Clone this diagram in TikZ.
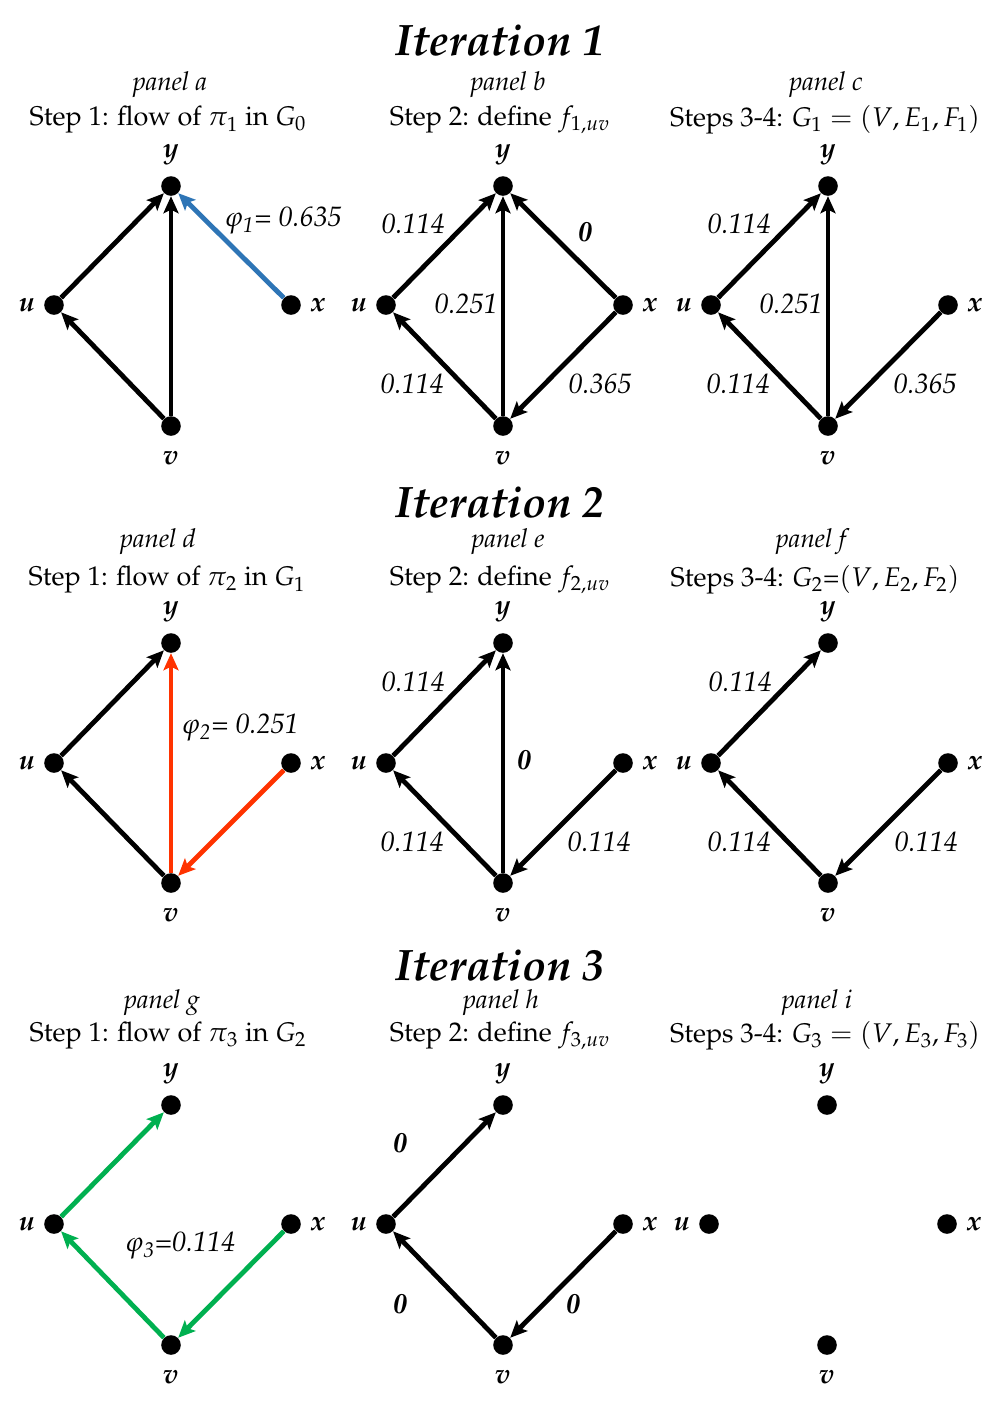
\documentclass[tikz,border=0pt]{standalone}
\usepackage[T1]{fontenc}
\usepackage{mathpazo}
\usetikzlibrary{arrows.meta}
\definecolor{flowblue}{RGB}{46,117,182}
\definecolor{flowred}{RGB}{255,51,0}
\definecolor{flowgreen}{RGB}{0,176,80}
\tikzset{
  dot/.style={circle,fill=black,inner sep=0pt,minimum size=9.8pt},
  vlbl/.style={font=\fontsize{14}{16}\selectfont\bfseries\itshape,inner sep=0pt},
  elbl/.style={font=\fontsize{14}{16}\selectfont\itshape,inner sep=0pt},
  zlbl/.style={font=\fontsize{14}{16}\selectfont\bfseries\itshape,inner sep=0pt},
  ttl/.style={font=\fontsize{22}{26}\selectfont\bfseries\itshape,inner sep=0pt},
  pnl/.style={font=\fontsize{13}{15}\selectfont\itshape,inner sep=0pt},
  stp/.style={font=\fontsize{13.5}{16}\selectfont,inner sep=0pt},
  arr/.style={line width=2.4pt,-{Stealth[length=8.5pt,width=7.5pt,inset=1.8pt]}},
}
\newcommand{\graphnodes}[7]{%
  \node[dot] (#1y) at (#3,#5) {};
  \node[dot] (#1u) at (#2,#6) {};
  \node[dot] (#1x) at (#4,#6) {};
  \node[dot] (#1v) at (#3,#7) {};
  \node[vlbl] (#1ly) at (#3,#5-31) {y};
  \node[vlbl] (#1lu) at (#2-27,#6) {u};
  \node[vlbl] (#1lx) at (#4+27,#6) {x};
  \node[vlbl] (#1lv) at (#3,#7+32) {v};
}
\begin{document}
\begin{tikzpicture}[x=0.5pt,y=-0.5pt]
\useasboundingbox (0,0) rectangle (1000,1410);
% ---------- Iteration 1 ----------
\node[ttl] (t1) at (500,40) {Iteration 1};
\node[pnl] (pa) at (170,85) {panel a};
\node[stp] (sa) at (168,120) {Step 1: flow of $\pi_1$ in $G_0$};
\node[pnl] (pb) at (508,85) {panel b};
\node[stp] (sb) at (500,120) {Step 2: define $f_{1,uv}$};
\node[pnl] (pc) at (826,85) {panel c};
\node[stp] (sc) at (825,120) {Steps 3-4: $G_1=(V,E_1,F_1)$};

\graphnodes{a}{54}{171}{291}{186}{305}{426}
\draw[arr] (au) -- (ay);
\draw[arr] (av) -- (au);
\draw[arr] (av) -- (ay);
\draw[arr,flowblue] (ax) -- (ay);
\node[elbl] (ea1) at (283,221) {$\varphi_{\mathit{1}}$= 0.635};

\graphnodes{b}{386}{503}{623}{186}{305}{426}
\draw[arr] (bu) -- (by);
\draw[arr] (bv) -- (bu);
\draw[arr] (bv) -- (by);
\draw[arr] (bx) -- (by);
\draw[arr] (bx) -- (bv);
\node[elbl] (eb1) at (413,224) {0.114};
\node[elbl] (eb2) at (466,304) {0.251};
\node[zlbl] (eb3) at (585,232) {0};
\node[elbl] (eb4) at (412,384) {0.114};
\node[elbl] (eb5) at (600,384) {0.365};

\graphnodes{c}{711}{828}{948}{186}{305}{426}
\draw[arr] (cu) -- (cy);
\draw[arr] (cv) -- (cu);
\draw[arr] (cv) -- (cy);
\draw[arr] (cx) -- (cv);
\node[elbl] (ec1) at (739,224) {0.114};
\node[elbl] (ec2) at (791,304) {0.251};
\node[elbl] (ec3) at (738,384) {0.114};
\node[elbl] (ec4) at (925,384) {0.365};

% ---------- Iteration 2 ----------
\node[ttl] (t2) at (500,502) {Iteration 2};
\node[pnl] (pd) at (158,542) {panel d};
\node[stp] (sd) at (167,580) {Step 1: flow of $\pi_2$ in $G_1$};
\node[pnl] (pe) at (508,542) {panel e};
\node[stp] (se) at (500,580) {Step 2: define $f_{2,uv}$};
\node[pnl] (pf) at (811,542) {panel f};
\node[stp] (sf) at (815,580) {Steps 3-4: $G_2$=$(V,E_2,F_2)$};

\graphnodes{d}{54}{171}{291}{643}{763}{883}
\draw[arr] (du) -- (dy);
\draw[arr] (dv) -- (du);
\draw[arr,flowred] (dv) -- (dy);
\draw[arr,flowred] (dx) -- (dv);
\node[elbl] (ed1) at (240,728) {$\varphi_{\mathit{2}}$= 0.251};

\graphnodes{e}{386}{503}{623}{643}{763}{883}
\draw[arr] (eu) -- (ey);
\draw[arr] (ev) -- (eu);
\draw[arr] (ev) -- (ey);
\draw[arr] (ex) -- (ev);
\node[elbl] (ee1) at (413,682) {0.114};
\node[zlbl] (ee2) at (524,760) {0};
\node[elbl] (ee3) at (412,842) {0.114};
\node[elbl] (ee4) at (599,842) {0.114};

\graphnodes{f}{711}{828}{948}{643}{763}{883}
\draw[arr] (fu) -- (fy);
\draw[arr] (fv) -- (fu);
\draw[arr] (fx) -- (fv);
\node[elbl] (ef1) at (740,682) {0.114};
\node[elbl] (ef2) at (739,842) {0.114};
\node[elbl] (ef3) at (926,842) {0.114};

% ---------- Iteration 3 ----------
\node[ttl] (t3) at (500,965) {Iteration 3};
\node[pnl] (pg) at (162,1003) {panel g};
\node[stp] (sg) at (168,1036) {Step 1: flow of $\pi_3$ in $G_2$};
\node[pnl] (ph) at (501,1003) {panel h};
\node[stp] (sh) at (500,1036) {Step 2: define $f_{3,uv}$};
\node[pnl] (pi) at (817,1003) {panel i};
\node[stp] (si) at (825,1036) {Steps 3-4: $G_3=(V,E_3,F_3)$};

\graphnodes{g}{54}{171}{291}{1105}{1224}{1345}
\draw[arr,flowgreen] (gu) -- (gy);
\draw[arr,flowgreen] (gv) -- (gu);
\draw[arr,flowgreen] (gx) -- (gv);
\node[elbl] (eg1) at (180,1246) {$\varphi_{\mathit{3}}$=0.114};

\graphnodes{h}{386}{503}{623}{1105}{1224}{1345}
\draw[arr] (hu) -- (hy);
\draw[arr] (hv) -- (hu);
\draw[arr] (hx) -- (hv);
\node[zlbl] (eh1) at (400,1143) {0};
\node[zlbl] (eh2) at (400,1304) {0};
\node[zlbl] (eh3) at (573,1304) {0};

\graphnodes{i}{709}{827}{947}{1105}{1224}{1345}
\end{tikzpicture}
\end{document}
